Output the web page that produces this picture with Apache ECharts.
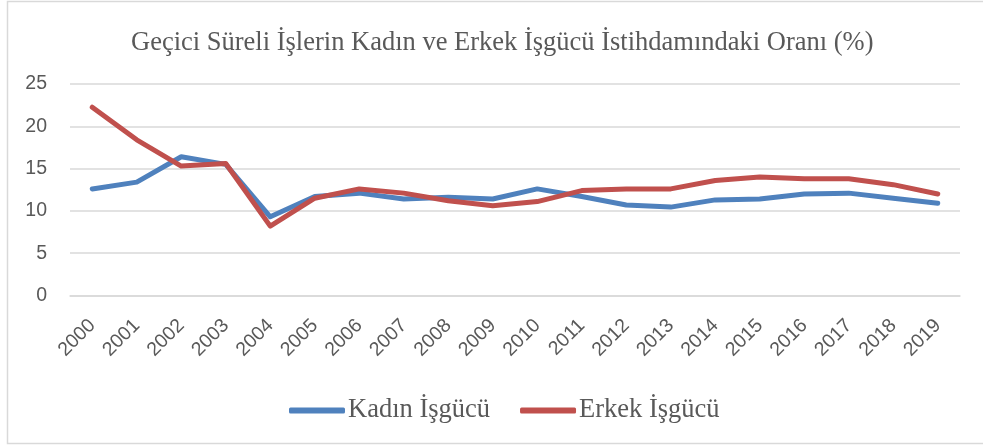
<!DOCTYPE html>
<html><head><meta charset="utf-8">
<script src="https://cdn.jsdelivr.net/npm/echarts@6/dist/echarts.min.js"></script>
<style>html,body{margin:0;padding:0;background:#fff}#c{width:983px;height:446px}</style>
</head><body><div id="c"></div>
<script>
const years = ['2000','2001','2002','2003','2004','2005','2006','2007','2008','2009','2010','2011','2012','2013','2014','2015','2016','2017','2018','2019'];
const kadin = [12.6,13.4,16.4,15.5,9.3,11.7,12.1,11.4,11.6,11.4,12.6,11.7,10.7,10.45,11.3,11.4,12.0,12.1,11.5,10.9];
const erkek = [22.25,18.4,15.3,15.6,8.2,11.5,12.6,12.1,11.2,10.6,11.1,12.4,12.6,12.6,13.6,14.0,13.8,13.8,13.1,12.0];
const yTicks = [0,5,10,15,20,25];
const titleText = 'Geçici Süreli İşlerin Kadın ve Erkek İşgücü İstihdamındaki Oranı (%)';
const names = ['Kadın İşgücü','Erkek İşgücü'];

const chart = echarts.init(document.getElementById('c'));
chart.setOption({
  animation:false,
  graphic:[{type:'rect',shape:{x:7.5,y:1.5,width:990,height:442},style:{fill:'none',stroke:'#d9d9d9',lineWidth:1.5},silent:true}],
  title:{text:titleText,left:126,top:25,textStyle:{fontFamily:'Liberation Serif',fontSize:26.5,fontWeight:'normal',color:'#595959'}},
  legend:{top:392,left:284,itemWidth:56,itemHeight:6,itemGap:30,icon:'roundRect',
    textStyle:{fontFamily:'Liberation Serif',fontSize:26.5,color:'#595959',padding:[0,0,0,-2]},
    data:names},
  grid:{left:70,right:23,top:84,bottom:150.5},
  xAxis:{type:'category',data:years,boundaryGap:true,
    axisLine:{show:true,lineStyle:{color:'#d9d9d9',width:1.5}},axisTick:{show:false},
    axisLabel:{rotate:45,fontFamily:'Liberation Sans',fontSize:19.5,color:'#595959',margin:27,interval:0}},
  yAxis:{type:'value',min:yTicks[0],max:yTicks[yTicks.length-1],interval:5,
    axisLine:{show:false},axisTick:{show:false},
    axisLabel:{fontFamily:'Liberation Sans',fontSize:19.5,color:'#595959',margin:23},
    splitLine:{lineStyle:{color:'#d9d9d9',width:1.5}}},
  series:[
    {name:names[0],type:'line',data:kadin,showSymbol:false,symbol:'none',lineStyle:{color:'#4f81bd',width:5,cap:'round',join:'round'},itemStyle:{color:'#4f81bd'}},
    {name:names[1],type:'line',data:erkek,showSymbol:false,symbol:'none',lineStyle:{color:'#c0504d',width:5,cap:'round',join:'round'},itemStyle:{color:'#c0504d'}}
  ]
});
</script></body></html>
